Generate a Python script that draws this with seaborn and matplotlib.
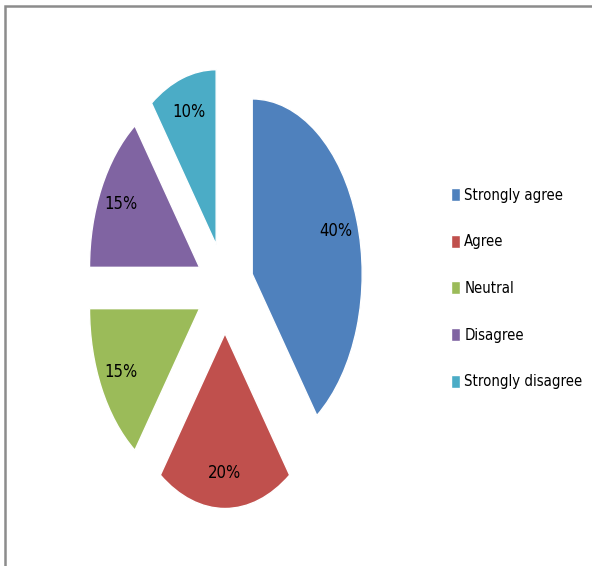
import matplotlib
matplotlib.use("Agg")
import matplotlib.pyplot as plt
from matplotlib.patches import Rectangle
import seaborn as sns

labels = ['Strongly agree', 'Agree', 'Neutral', 'Disagree', 'Strongly disagree']
shares = [40, 20, 15, 15, 10]
colors = ['#4F81BD', '#C0504D', '#9BBB59', '#8064A2', '#4BACC6']

sns.set_style("white")
plt.rcParams['font.family'] = ['DejaVu Sans']
plt.rcParams['font.stretch'] = 'condensed'
plt.rcParams['text.color'] = 'black'

fig = plt.figure(figsize=(5.92, 5.66), dpi=100)

# pie is squashed horizontally in the original, so use a stretched axes
ax = fig.add_axes([71 / 592, 33 / 566, 308 / 592, 490 / 566])
wedges, texts, autotexts = ax.pie(
    shares, colors=colors, startangle=90, counterclock=False,
    explode=[0.26] * len(shares), autopct='%d%%', pctdistance=0.8,
    textprops={'fontsize': 12, 'color': 'black'})
ax.set_aspect('auto')
ax.set_xlim(-1.4, 1.4)
ax.set_ylim(-1.4, 1.4)
ax.axis('off')

ax.legend(wedges, labels, loc='center left',
          bbox_to_anchor=(451 / 592, 1 - 288.5 / 566), bbox_transform=fig.transFigure,
          frameon=False, fontsize=10.7, handlelength=0.6, handleheight=0.95,
          handletextpad=0.3, labelspacing=2.13, borderpad=0, borderaxespad=0,
          labelcolor='black')

# chart border: only top and left edges show in the crop
fig.add_artist(Rectangle((5 / 592, -0.1), 1.2, 1 - 6 / 566 + 0.1, transform=fig.transFigure,
                         fill=False, edgecolor='#8c8c8c', linewidth=1.8))

fig.savefig('out.png', dpi=100)
